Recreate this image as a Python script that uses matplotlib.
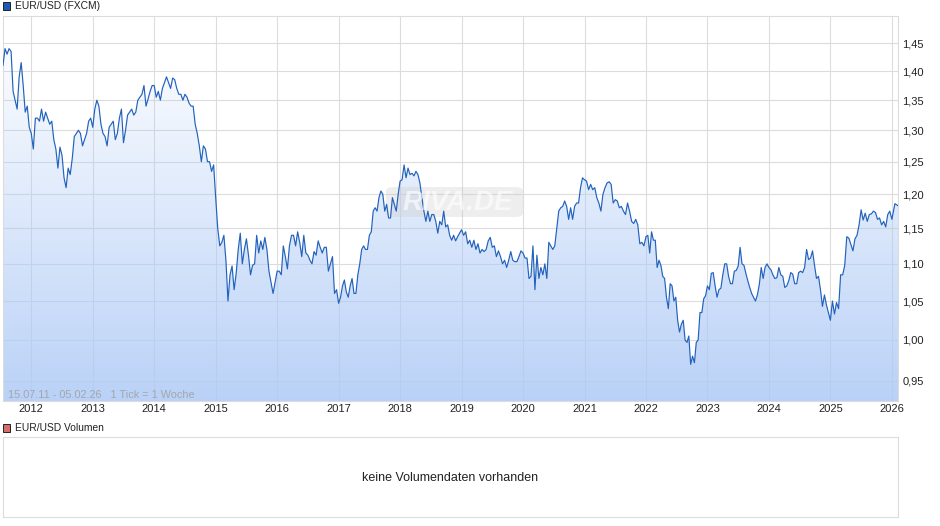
import numpy as np
import matplotlib
matplotlib.use("Agg")
import matplotlib.pyplot as plt
from matplotlib.patches import FancyBboxPatch, Rectangle

plt.rcParams["font.family"] = ["Liberation Sans", "DejaVu Sans"]

W, H = 940, 526
START = 2011.54
END = 2026.10

rate_2011 = [1.41, 1.44, 1.43, 1.44, 1.435, 1.365, 1.35, 1.335, 1.39, 1.415, 1.375, 1.33, 1.34, 1.305]
rate_2012 = [1.295, 1.27, 1.32, 1.32, 1.315, 1.335, 1.315, 1.33, 1.32, 1.31, 1.315, 1.285, 1.27, 1.24, 1.273,
             1.26, 1.225, 1.21, 1.24, 1.23, 1.255, 1.29, 1.295, 1.30, 1.295, 1.275, 1.285, 1.295, 1.315, 1.32]
rate_2013 = [1.305, 1.335, 1.35, 1.34, 1.31, 1.295, 1.29, 1.275, 1.305, 1.31, 1.315, 1.285, 1.295, 1.32, 1.335,
             1.28, 1.30, 1.325, 1.33, 1.335, 1.325, 1.33, 1.35, 1.355, 1.36, 1.375, 1.34, 1.352, 1.365, 1.375]
rate_2014 = [1.375, 1.355, 1.365, 1.35, 1.37, 1.38, 1.39, 1.38, 1.37, 1.388, 1.385, 1.37, 1.36, 1.36, 1.35,
             1.36, 1.355, 1.345, 1.34, 1.34, 1.31, 1.295, 1.275, 1.25, 1.275, 1.27, 1.25, 1.25, 1.235, 1.245]
rate_2015 = [1.195, 1.15, 1.125, 1.13, 1.14, 1.105, 1.05, 1.085, 1.097, 1.065, 1.087, 1.12, 1.143, 1.10, 1.12,
             1.135, 1.112, 1.085, 1.098, 1.10, 1.14, 1.115, 1.132, 1.12, 1.137, 1.12, 1.09, 1.075, 1.06, 1.075]
rate_2016 = [1.09, 1.09, 1.085, 1.125, 1.11, 1.093, 1.125, 1.14, 1.14, 1.125, 1.145, 1.13, 1.11, 1.14, 1.115,
             1.112, 1.105, 1.10, 1.117, 1.112, 1.132, 1.123, 1.115, 1.123, 1.123, 1.09, 1.10, 1.11, 1.06, 1.065]
rate_2017 = [1.047, 1.055, 1.07, 1.078, 1.062, 1.055, 1.07, 1.08, 1.06, 1.06, 1.085, 1.10, 1.12, 1.125, 1.12, 1.12,
             1.14, 1.145, 1.175, 1.18, 1.175, 1.195, 1.205, 1.20, 1.175, 1.185, 1.165, 1.165, 1.195, 1.185, 1.175, 1.20]
rate_2018 = [1.22, 1.222, 1.245, 1.225, 1.24, 1.23, 1.232, 1.228, 1.235, 1.23, 1.217, 1.195, 1.175, 1.16, 1.175, 1.16,
             1.17, 1.17, 1.16, 1.143, 1.16, 1.155, 1.175, 1.152, 1.155, 1.14, 1.133, 1.14, 1.132, 1.138, 1.143]
rate_2019 = [1.148, 1.14, 1.145, 1.128, 1.133, 1.123, 1.133, 1.12, 1.128, 1.115, 1.12, 1.117, 1.12, 1.132, 1.137,
             1.123, 1.125, 1.11, 1.118, 1.11, 1.10, 1.105, 1.095, 1.105, 1.117, 1.105, 1.103, 1.103, 1.11, 1.118]
rate_2020 = [1.115, 1.108, 1.108, 1.08, 1.083, 1.125, 1.065, 1.112, 1.08, 1.095, 1.085, 1.10, 1.08, 1.13, 1.125,
             1.12, 1.125, 1.15, 1.175, 1.18, 1.182, 1.19, 1.182, 1.163, 1.18, 1.163, 1.182, 1.187, 1.187, 1.21, 1.225]
rate_2021 = [1.222, 1.22, 1.207, 1.215, 1.207, 1.21, 1.195, 1.187, 1.175, 1.20, 1.21, 1.217, 1.219, 1.215, 1.187,
             1.192, 1.19, 1.18, 1.182, 1.175, 1.17, 1.187, 1.175, 1.16, 1.157, 1.163, 1.155, 1.128, 1.13, 1.125]
rate_2022 = [1.138, 1.14, 1.115, 1.145, 1.133, 1.133, 1.095, 1.105, 1.098, 1.083, 1.08, 1.055, 1.04, 1.073, 1.07,
             1.05, 1.055, 1.025, 1.01, 1.02, 1.025, 1.00, 0.997, 1.005, 0.97, 0.98, 0.972, 0.997, 1.0, 1.035, 1.035, 1.053, 1.057]
rate_2023 = [1.07, 1.065, 1.087, 1.088, 1.07, 1.055, 1.065, 1.067, 1.085, 1.10, 1.10, 1.083, 1.073, 1.073, 1.09, 1.091,
             1.097, 1.123, 1.10, 1.098, 1.087, 1.077, 1.068, 1.06, 1.055, 1.05, 1.058, 1.072, 1.095, 1.08, 1.095, 1.10]
rate_2024 = [1.095, 1.092, 1.085, 1.08, 1.081, 1.095, 1.085, 1.083, 1.068, 1.07, 1.077, 1.088, 1.086, 1.073, 1.073,
             1.088, 1.09, 1.088, 1.095, 1.12, 1.106, 1.108, 1.118, 1.098, 1.08, 1.083, 1.065, 1.043, 1.058, 1.045, 1.035]
rate_2025 = [1.025, 1.05, 1.033, 1.048, 1.04, 1.085, 1.085, 1.098, 1.138, 1.136, 1.127, 1.118, 1.135, 1.14, 1.155,
             1.177, 1.162, 1.172, 1.16, 1.17, 1.171, 1.175, 1.173, 1.163, 1.165, 1.155, 1.16, 1.152, 1.17, 1.175]
rate_2026 = [1.163, 1.186, 1.183]

yearly = [(2012, rate_2012), (2013, rate_2013), (2014, rate_2014), (2015, rate_2015), (2016, rate_2016),
          (2017, rate_2017), (2018, rate_2018), (2019, rate_2019), (2020, rate_2020), (2021, rate_2021),
          (2022, rate_2022), (2023, rate_2023), (2024, rate_2024), (2025, rate_2025)]

price_ticks = [0.95, 1.00, 1.05, 1.10, 1.15, 1.20, 1.25, 1.30, 1.35, 1.40, 1.45]
year_ticks = list(range(2012, 2027))

x = [np.linspace(START, 2012, len(rate_2011), endpoint=False)]
y = [rate_2011]
for year, values in yearly:
    x.append(np.linspace(year, year + 1, len(values), endpoint=False))
    y.append(values)
x.append(np.linspace(2026, END, len(rate_2026)))
y.append(rate_2026)
x = np.concatenate(x)
y = np.concatenate(y)


def px_axes(fig, left, top, right, bottom):
    return fig.add_axes([left / W, 1 - bottom / H, (right - left) / W, (bottom - top) / H])


def legend_entry(fig, top, color, label):
    fig.add_artist(Rectangle((3 / W, 1 - (top + 8) / H), 7 / W, 8 / H, transform=fig.transFigure,
                             facecolor=color, edgecolor="#222222", linewidth=0.7))
    fig.text(15 / W, 1 - (top + 4) / H, label, fontsize=7.4, va="center", color="#222222")


GRID = "#dcdcdc"
fig = plt.figure(figsize=(W / 100, H / 100), dpi=100)

ax = px_axes(fig, 3, 16, 898, 401)
ax.set_yscale("log")
ax.set_xlim(START, END)
ax.set_ylim(0.9265, 1.50)
ax.set_xticks(year_ticks)
ax.set_xticklabels([str(t) for t in year_ticks], fontsize=8, color="#222222")
ax.set_yticks(price_ticks)
ax.set_yticklabels([f"{t:.2f}".replace(".", ",") for t in price_ticks], fontsize=8, color="#222222")
ax.minorticks_off()
ax.yaxis.tick_right()
ax.tick_params(axis="x", length=0, pad=2)
ax.tick_params(axis="y", length=0, pad=3)
ax.grid(True, color=GRID, linewidth=0.8, zorder=1)
ax.set_axisbelow(True)
for spine in ax.spines.values():
    spine.set_color(GRID)
    spine.set_linewidth(0.8)

# verlauf unter der linie, nach unten dichter
alpha = np.linspace(0.03, 0.86, 256).reshape(-1, 1)
gradient = np.zeros((256, 1, 4))
gradient[..., 0] = 0.686
gradient[..., 1] = 0.793
gradient[..., 2] = 0.968
gradient[..., 3] = alpha
img = ax.imshow(gradient, origin="upper", aspect="auto", transform=ax.transAxes,
                extent=(0, 1, 0, 0.93), zorder=2)
ax.set_xlim(START, END)
ax.set_ylim(0.9265, 1.50)
fill = ax.fill_between(x, y, 0.9265, color="none")
img.set_clip_path(fill.get_paths()[0], transform=ax.transData)

# wasserzeichen
ax.add_patch(FancyBboxPatch((386 / W, 1 - 217 / H), 137 / W, 30 / H, boxstyle="round,pad=0,rounding_size=0.008",
                            transform=fig.transFigure, facecolor="#cfcfcf", edgecolor="none", alpha=0.35, zorder=3))
fig.text(458 / W, 1 - 203 / H, "RIVA.DE", fontsize=20, fontweight="bold", style="italic",
         color="white", alpha=0.6, ha="center", va="center", zorder=4)

ax.plot(x, y, color="#2262bd", linewidth=0.85, zorder=5)
ax.text(5 / 895, 0.002, "15.07.11 - 05.02.26   1 Tick = 1 Woche", transform=ax.transAxes,
        fontsize=7.8, color="#a3a6ab", va="bottom", zorder=6)

legend_entry(fig, 2, "#1c5ab8", "EUR/USD (FXCM)")
legend_entry(fig, 424, "#d96b6b", "EUR/USD Volumen")

vol = px_axes(fig, 3, 437, 898, 517)
vol.set_xticks([])
vol.set_yticks([])
for spine in vol.spines.values():
    spine.set_color(GRID)
    spine.set_linewidth(0.8)
vol.text(0.5, 0.49, "keine Volumendaten vorhanden", transform=vol.transAxes, fontsize=9,
         ha="center", va="center", color="#222222")

fig.savefig("out.png", dpi=100)
